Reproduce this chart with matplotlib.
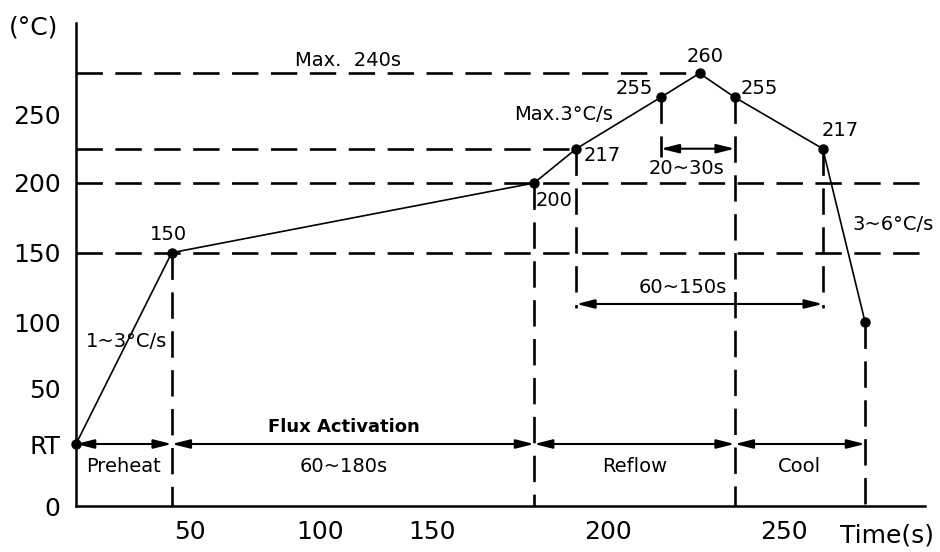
import numpy as np
import matplotlib
matplotlib.use("Agg")
import matplotlib.pyplot as plt

# reflow profile: time (s) and temperature (C), RT taken as 25
profile_time = [0, 42, 179, 191, 215, 226, 236, 261, 273]
profile_temp = [25, 150, 200, 217, 255, 260, 255, 217, 100]
point_labels = ["", "150", "200", "217", "255", "260", "255", "217", ""]
# label offsets from each dot, in pixels
label_dx = [0, -3, 20, 26, -26, 6, 25, 17, 0]
label_dy = [0, 18, -17, -7, 9, 17, 9, 18, 0]

ytick_vals = [0, 25, 50, 100, 150, 200, 250]
ytick_labels = ["0", "RT", "50", "100", "150", "200", "250"]
xtick_vals = [50, 100, 150, 200, 250]
xtick_labels = ["50", "100", "150", "200", "250"]

# horizontal guides: temperature and the time they run to
hguide_temp = [260, 217, 200, 150]
hguide_end = [226, 191, 290, 290]
# vertical guides: time, top and bottom temperature
vguide_time = [42, 179, 191, 215, 236, 261, 273]
vguide_top = [150, 200, 217, 255, 255, 217, 100]
vguide_bottom = [0, 0, 110, 213, 0, 110, 0]

# phases along the RT line
phase_edges = [0, 42, 179, 236, 273]
phase_names = ["Preheat", "60~180s", "Reflow", "Cool"]

# the drawing is not to scale -> piecewise scales
x_knot_val = [0, 50, 100, 150, 200, 250, 290]
x_knot_pos = [0, 114, 244, 356, 532, 708, 849]
y_knot_val = [0, 25, 50, 100, 150, 200, 217, 250, 255, 260, 275]
y_knot_pos = [0, 62, 118, 184, 253.3, 323, 357.3, 391, 408.7, 432.7, 483]


def fwd_x(v):
    return np.interp(v, x_knot_val, x_knot_pos)


def inv_x(p):
    return np.interp(p, x_knot_pos, x_knot_val)


def fwd_y(v):
    return np.interp(v, y_knot_val, y_knot_pos)


def inv_y(p):
    return np.interp(p, y_knot_pos, y_knot_val)


def dim_arrow(ax, x0, x1, y):
    ax.annotate("", xy=(x1, y), xytext=(x0, y),
                arrowprops=dict(arrowstyle="<|-|>,head_length=0.6,head_width=0.15",
                                color="black", lw=1.5, shrinkA=0, shrinkB=0,
                                mutation_scale=18))


def dim_label(ax, x0, x1, y, text, dy, dx=0, **kw):
    ax.annotate(text, xy=((x0 + x1) / 2, y), xytext=(dx, dy),
                textcoords="offset pixels", ha="center", va="center", **kw)


plt.rcParams['font.family'] = ['DejaVu Sans']
plt.rcParams['lines.scale_dashes'] = False

fig = plt.figure(figsize=(9.4, 5.52), dpi=100)
ax = fig.add_axes([76 / 940, 46 / 552, 849 / 940, 483 / 552])
ax.set_xscale("function", functions=(fwd_x, inv_x))
ax.set_yscale("function", functions=(fwd_y, inv_y))
ax.set_xlim(0, 290)
ax.set_ylim(0, 275)

dash = (0, (19, 9))
for t, e in zip(hguide_temp, hguide_end):
    ax.plot([0, e], [t, t], color="black", lw=1.9, ls=dash)
for t, top, bot in zip(vguide_time, vguide_top, vguide_bottom):
    ax.plot([t, t], [top, bot], color="black", lw=1.9, ls=dash)

ax.plot(profile_time, profile_temp, color="black", lw=1.2, marker="o",
        markersize=6.5, clip_on=False, zorder=5)
for t, v, lab, dx, dy in zip(profile_time, profile_temp, point_labels, label_dx, label_dy):
    if lab:
        ax.annotate(lab, xy=(t, v), xytext=(dx, dy), textcoords="offset pixels",
                    ha="center", va="center", fontsize=14)

# phase arrows along RT
rt = ytick_vals[1]
for i in range(len(phase_names)):
    dim_arrow(ax, phase_edges[i], phase_edges[i + 1], rt)
    dim_label(ax, phase_edges[i], phase_edges[i + 1], rt, phase_names[i], -22, fontsize=14)
dim_label(ax, phase_edges[1], phase_edges[2], rt, "Flux Activation", 17,
          fontsize=13, fontweight="bold")

# time above liquidus and time near peak
dim_arrow(ax, profile_time[3], profile_time[7], 113)
dim_label(ax, profile_time[3], profile_time[7], 113, "60~150s", 16, dx=-17, fontsize=14)
dim_arrow(ax, profile_time[4], profile_time[6], 217)
dim_label(ax, profile_time[4], profile_time[6], 217, "20~30s", -20, dx=-11, fontsize=14)

ax.text(0.320, 0.923, "Max.  240s", transform=ax.transAxes, ha="center", va="center", fontsize=14)
ax.text(0.574, 0.810, "Max.3°C/s", transform=ax.transAxes, ha="center", va="center", fontsize=14)
ax.text(0.962, 0.582, "3~6°C/s", transform=ax.transAxes, ha="center", va="center", fontsize=14)
ax.text(0.059, 0.340, "1~3°C/s", transform=ax.transAxes, ha="center", va="center", fontsize=14)

ax.set_yticks(ytick_vals, ytick_labels)
ax.set_xticks(xtick_vals, xtick_labels)
ax.tick_params(length=0, labelsize=18)
ax.tick_params(axis="y", pad=11)
ax.tick_params(axis="x", pad=10)
ax.minorticks_off()

for side in ["top", "right"]:
    ax.spines[side].set_visible(False)
for side in ["left", "bottom"]:
    ax.spines[side].set_linewidth(1.8)

fig.text(34 / 940, 1 - 27 / 552, "(°C)", ha="center", va="center", fontsize=18)
fig.text(887 / 940, 1 - 535 / 552, "Time(s)", ha="center", va="center", fontsize=18)

fig.savefig("out.png", dpi=100)
